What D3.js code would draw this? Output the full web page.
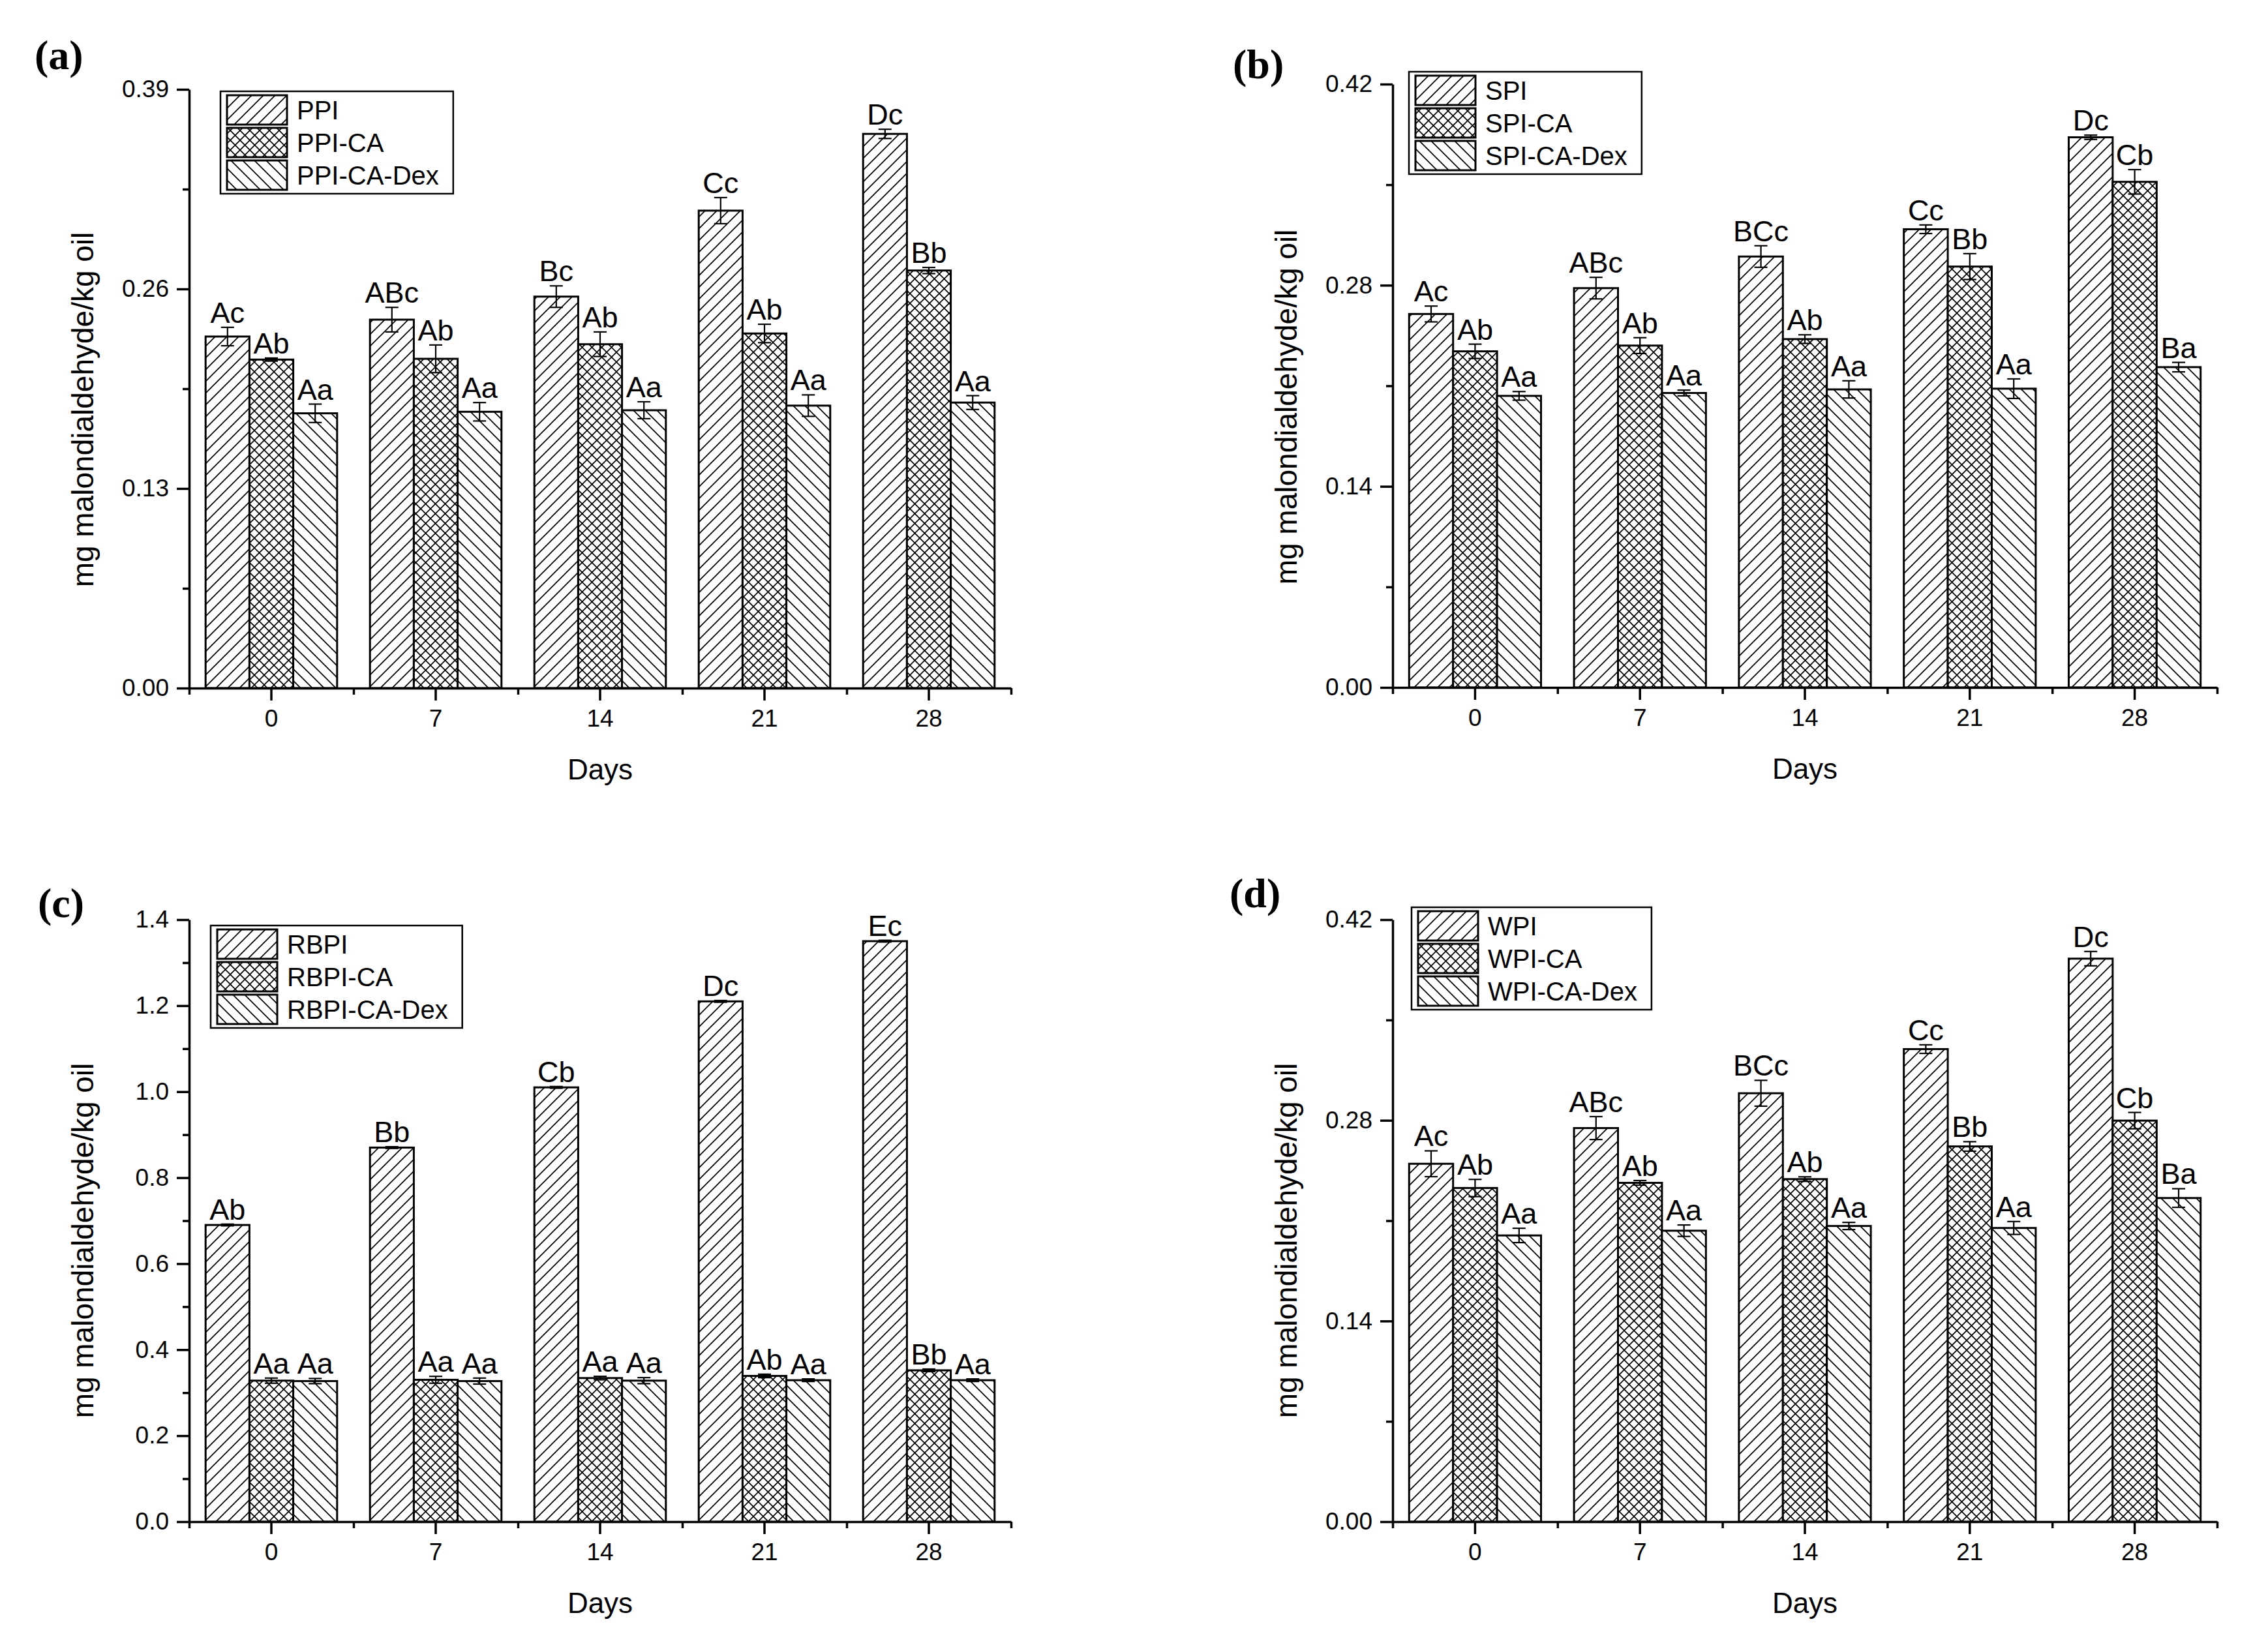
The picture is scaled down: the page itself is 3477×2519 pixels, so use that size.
<!DOCTYPE html>
<html>
<head>
<meta charset="utf-8">
<script src="https://cdn.jsdelivr.net/npm/d3@7"></script>
<style>
  body { margin: 0; background: #fff; }
  text { font-family: "Liberation Sans", Arial, sans-serif; fill: #000; }
  text.tag { font-family: "Liberation Serif", "Times New Roman", serif; font-weight: bold; }
</style>
</head>
<body>
<svg id="chart"></svg>
<script>
const width = 3477, height = 2519;

// x categories (storage days)
const days = ["0", "7", "14", "21", "28"];

// (a) PPI
const ppiNames = ["PPI", "PPI-CA", "PPI-CA-Dex"];
const ppiValues = [
  [0.229, 0.240, 0.255, 0.311, 0.361],
  [0.214, 0.2145, 0.224, 0.231, 0.272],
  [0.179, 0.180, 0.181, 0.184, 0.186]
];
const ppiErrors = [
  [0.006, 0.008, 0.007, 0.0085, 0.003],
  [0.001, 0.009, 0.008, 0.006, 0.002],
  [0.006, 0.006, 0.0055, 0.007, 0.0045]
];
const ppiLetters = [
  ["Ac", "ABc", "Bc", "Cc", "Dc"],
  ["Ab", "Ab", "Ab", "Ab", "Bb"],
  ["Aa", "Aa", "Aa", "Aa", "Aa"]
];
const ppiTicks = [0, 0.13, 0.26, 0.39];

// (b) SPI
const spiNames = ["SPI", "SPI-CA", "SPI-CA-Dex"];
const spiValues = [
  [0.260, 0.278, 0.300, 0.319, 0.383],
  [0.234, 0.238, 0.2425, 0.293, 0.352],
  [0.203, 0.205, 0.2075, 0.208, 0.223]
];
const spiErrors = [
  [0.0055, 0.0075, 0.0075, 0.003, 0.0015],
  [0.005, 0.0055, 0.003, 0.009, 0.0085],
  [0.003, 0.002, 0.006, 0.0068, 0.0033]
];
const spiLetters = [
  ["Ac", "ABc", "BCc", "Cc", "Dc"],
  ["Ab", "Ab", "Ab", "Bb", "Cb"],
  ["Aa", "Aa", "Aa", "Aa", "Ba"]
];
const spiTicks = [0, 0.14, 0.28, 0.42];

// (c) RBPI
const rbpiNames = ["RBPI", "RBPI-CA", "RBPI-CA-Dex"];
const rbpiValues = [
  [0.69, 0.87, 1.01, 1.21, 1.35],
  [0.328, 0.330, 0.334, 0.339, 0.352],
  [0.327, 0.327, 0.328, 0.329, 0.329]
];
const rbpiErrors = [
  [0.002, 0.002, 0.002, 0.002, 0.002],
  [0.006, 0.008, 0.004, 0.004, 0.003],
  [0.006, 0.007, 0.007, 0.003, 0.003]
];
const rbpiLetters = [
  ["Ab", "Bb", "Cb", "Dc", "Ec"],
  ["Aa", "Aa", "Aa", "Ab", "Bb"],
  ["Aa", "Aa", "Aa", "Aa", "Aa"]
];
const rbpiTicks = [0, 0.2, 0.4, 0.6, 0.8, 1.0, 1.2, 1.4];

// (d) WPI
const wpiNames = ["WPI", "WPI-CA", "WPI-CA-Dex"];
const wpiValues = [
  [0.2497, 0.2746, 0.2989, 0.3297, 0.3928],
  [0.2328, 0.2364, 0.239, 0.2618, 0.2798],
  [0.1997, 0.203, 0.2063, 0.2049, 0.2258]
];
const wpiErrors = [
  [0.009, 0.008, 0.009, 0.003, 0.005],
  [0.006, 0.0016, 0.0016, 0.0033, 0.0057],
  [0.005, 0.004, 0.0025, 0.0045, 0.0065]
];
const wpiLetters = [
  ["Ac", "ABc", "BCc", "Cc", "Dc"],
  ["Ab", "Ab", "Ab", "Bb", "Cb"],
  ["Aa", "Aa", "Aa", "Aa", "Ba"]
];
const wpiTicks = [0, 0.14, 0.28, 0.42];

const patterns = ["hatchFwd", "hatchCross", "hatchBack"];

const panels = [
  { tag: "(a)", names: ppiNames, values: ppiValues, errors: ppiErrors, letters: ppiLetters, ticks: ppiTicks, fmt: ".2f",
    left: 290, right: 1550, top: 137, bottom: 1055, tagX: 53, tagY: 106, legX: 338, legY: 140, titleY: 628 },
  { tag: "(b)", names: spiNames, values: spiValues, errors: spiErrors, letters: spiLetters, ticks: spiTicks, fmt: ".2f",
    left: 2135, right: 3399, top: 129, bottom: 1054, tagX: 1890, tagY: 120, legX: 2160, legY: 110, titleY: 624 },
  { tag: "(c)", names: rbpiNames, values: rbpiValues, errors: rbpiErrors, letters: rbpiLetters, ticks: rbpiTicks, fmt: ".1f",
    left: 290, right: 1550, top: 1410, bottom: 2333, tagX: 58, tagY: 1406, legX: 323, legY: 1419, titleY: 1902 },
  { tag: "(d)", names: wpiNames, values: wpiValues, errors: wpiErrors, letters: wpiLetters, ticks: wpiTicks, fmt: ".2f",
    left: 2135, right: 3399, top: 1410, bottom: 2333, tagX: 1885, tagY: 1391, legX: 2164, legY: 1391, titleY: 1902 }
];

const svg = d3.select("#chart")
    .attr("width", width)
    .attr("height", height)
    .attr("viewBox", [0, 0, width, height]);

svg.append("rect").attr("width", width).attr("height", height).attr("fill", "#fff");

// hatch patterns
const defs = svg.append("defs");
function addPattern(id, size, d) {
  const p = defs.append("pattern")
      .attr("id", id)
      .attr("patternUnits", "userSpaceOnUse")
      .attr("width", size)
      .attr("height", size);
  p.append("rect").attr("width", size).attr("height", size).attr("fill", "#fff");
  p.append("path").attr("d", d).attr("stroke", "#000").attr("stroke-width", 1.7).attr("fill", "none");
}
addPattern("hatchFwd", 18, "M-4.5,4.5L4.5,-4.5M0,18L18,0M13.5,22.5L22.5,13.5");
addPattern("hatchBack", 18, "M0,0L18,18M-4.5,13.5L4.5,22.5M13.5,-4.5L22.5,4.5");
addPattern("hatchCross", 15, "M0,15L15,0M-3,3L3,-3M12,18L18,12M0,0L15,15M-3,12L3,18M12,-3L18,3");

function drawPanel(cfg) {
  const g = svg.append("g");

  const x = d3.scaleBand()
      .domain(days)
      .range([cfg.left, cfg.right])
      .paddingInner(0.2)
      .paddingOuter(0.1);

  const xSub = d3.scaleBand()
      .domain(d3.range(cfg.names.length))
      .range([0, x.bandwidth()]);

  const y = d3.scaleLinear()
      .domain([0, d3.max(cfg.ticks)])
      .range([cfg.bottom, cfg.top]);

  // bars
  cfg.values.forEach((series, si) => {
    g.append("g").selectAll("rect")
      .data(series)
      .join("rect")
        .attr("x", (d, i) => x(days[i]) + xSub(si))
        .attr("y", d => y(d))
        .attr("width", xSub.bandwidth())
        .attr("height", d => y(0) - y(d))
        .attr("fill", `url(#${patterns[si]})`)
        .attr("stroke", "#000")
        .attr("stroke-width", 3);
  });

  // error bars and letters
  cfg.values.forEach((series, si) => {
    series.forEach((v, i) => {
      const e = cfg.errors[si][i];
      const cx = x(days[i]) + xSub(si) + xSub.bandwidth() / 2;
      const eb = g.append("g").attr("stroke", "#000").attr("stroke-width", 2.2);
      eb.append("line").attr("x1", cx).attr("x2", cx).attr("y1", y(v - e)).attr("y2", y(v + e));
      eb.append("line").attr("x1", cx - 10).attr("x2", cx + 10).attr("y1", y(v - e)).attr("y2", y(v - e));
      eb.append("line").attr("x1", cx - 10).attr("x2", cx + 10).attr("y1", y(v + e)).attr("y2", y(v + e));

      g.append("text")
        .attr("x", cx)
        .attr("y", y(v + e) - 7)
        .attr("text-anchor", "middle")
        .attr("font-size", 45)
        .text(cfg.letters[si][i]);
    });
  });

  // y axis
  const fmt = d3.format(cfg.fmt);
  const step = cfg.ticks[1] - cfg.ticks[0];
  const minor = cfg.ticks.slice(0, -1).map(t => t + step / 2);

  g.append("g")
      .attr("transform", `translate(${cfg.left},0)`)
      .call(d3.axisLeft(y).tickValues(cfg.ticks).tickFormat(fmt).tickSize(19).tickSizeOuter(0).tickPadding(12));
  g.append("g")
      .attr("transform", `translate(${cfg.left},0)`)
      .call(d3.axisLeft(y).tickValues(minor).tickFormat("").tickSize(10).tickSizeOuter(0))
      .call(a => a.select(".domain").remove());

  // x axis
  const xLin = d3.scaleLinear().domain([0, days.length]).range([cfg.left, cfg.right]);
  g.append("g")
      .attr("transform", `translate(0,${cfg.bottom})`)
      .call(d3.axisBottom(x).tickSize(19).tickSizeOuter(0).tickPadding(14));
  g.append("g")
      .attr("transform", `translate(0,${cfg.bottom})`)
      .call(d3.axisBottom(xLin).tickValues(d3.range(days.length + 1)).tickFormat("").tickSize(10).tickSizeOuter(0))
      .call(a => a.select(".domain").remove());

  g.selectAll(".domain, .tick line").attr("stroke", "#000").attr("stroke-width", 3.5);
  g.selectAll(".tick text")
      .attr("font-size", 37)
      .attr("fill", "#000");

  // axis titles
  g.append("text")
      .attr("transform", `translate(${cfg.left - 147},${cfg.titleY}) rotate(-90)`)
      .attr("text-anchor", "middle")
      .attr("font-size", 46)
      .text("mg malondialdehyde/kg oil");

  g.append("text")
      .attr("x", (cfg.left + cfg.right) / 2)
      .attr("y", cfg.bottom + 140)
      .attr("text-anchor", "middle")
      .attr("font-size", 44)
      .text("Days");

  // panel tag
  g.append("text")
      .attr("class", "tag")
      .attr("x", cfg.tagX)
      .attr("y", cfg.tagY)
      .attr("font-size", 64)
      .text(cfg.tag);

  // legend
  const leg = g.append("g").attr("transform", `translate(${cfg.legX},${cfg.legY})`);
  const box = leg.append("rect")
      .attr("fill", "#fff")
      .attr("stroke", "#000")
      .attr("stroke-width", 2.5);
  let maxW = 0;
  cfg.names.forEach((name, si) => {
    const ry = 6 + si * 50;
    leg.append("rect")
        .attr("x", 10).attr("y", ry)
        .attr("width", 92).attr("height", 45)
        .attr("fill", `url(#${patterns[si]})`)
        .attr("stroke", "#000")
        .attr("stroke-width", 3);
    const t = leg.append("text")
        .attr("x", 117)
        .attr("y", ry + 37)
        .attr("font-size", 40)
        .text(name);
    maxW = Math.max(maxW, t.node().getComputedTextLength());
  });
  box.attr("width", 117 + maxW + 22).attr("height", 157);
}

panels.forEach(drawPanel);
</script>
</body>
</html>
